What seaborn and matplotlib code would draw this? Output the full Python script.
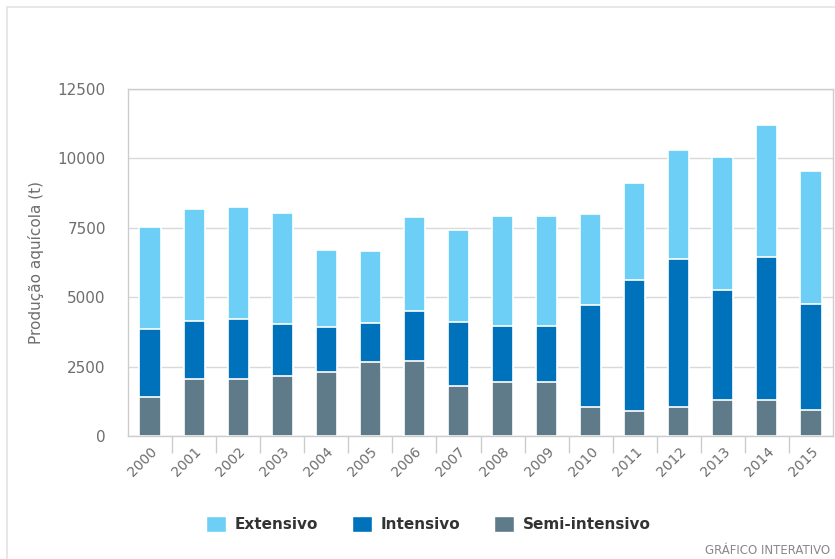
import numpy as np
import pandas as pd
import seaborn as sns
import matplotlib.pyplot as plt
from matplotlib.patches import Patch
from matplotlib.lines import Line2D
from matplotlib.ticker import FixedLocator

years = [str(y) for y in range(2000, 2016)]
semi_intensivo = [1420, 2070, 2060, 2150, 2310, 2660, 2710, 1800, 1960, 1960, 1060, 900, 1060, 1300, 1300, 940]
intensivo = [2450, 2060, 2160, 1870, 1610, 1410, 1810, 2300, 2000, 2000, 3660, 4730, 5330, 3970, 5140, 3830]
extensivo = [3650, 4060, 4020, 4010, 2790, 2600, 3360, 3320, 3970, 3970, 3260, 3500, 3900, 4770, 4770, 4780]

c_ext = '#6dcff6'
c_int = '#0072bc'
c_semi = '#5f7b89'
grey = '#6e6e6e'

df = pd.DataFrame({'ano': years, 'semi': semi_intensivo, 'int': intensivo, 'ext': extensivo})
df['top_int'] = df['semi'] + df['int']
df['total'] = df['top_int'] + df['ext']

sns.set_style('white')
plt.rcParams['font.family'] = ['DejaVu Sans']

fig = plt.figure(figsize=(8.35, 5.59), dpi=100)
ax = fig.add_axes([128 / 835, 1 - 436 / 559, 705 / 835, 347 / 559])

# stacked bars by layering cumulative totals
for col, c in [('total', c_ext), ('top_int', c_int), ('semi', c_semi)]:
    sns.barplot(data=df, x='ano', y=col, color=c, width=0.48, edgecolor='white',
                linewidth=1.2, saturation=1, ax=ax)

ax.set_xlim(-0.5, 15.5)
ax.set_ylim(0, 12500)
ax.set_yticks(np.arange(0, 12501, 2500))
ax.yaxis.grid(True, color='#d9d9d9', linewidth=1)
ax.set_axisbelow(True)
for s in ax.spines.values():
    s.set_color('#cccccc')
    s.set_linewidth(1)

ax.set_xlabel('')
ax.set_ylabel('Produção aquícola (t)', color=grey, fontsize=11, labelpad=10)
ax.tick_params(axis='y', length=0, labelsize=11, labelcolor=grey, pad=16)
ax.tick_params(axis='x', which='major', length=0, labelsize=10, labelcolor=grey, pad=6)
ax.xaxis.set_minor_locator(FixedLocator(np.arange(0.5, 15, 1)))
ax.tick_params(axis='x', which='minor', bottom=True, length=12, color='#cccccc', width=1, direction='out')
for lab in ax.get_xticklabels():
    lab.set_rotation(45)
    lab.set_ha('right')
    lab.set_rotation_mode('anchor')

handles = [Patch(facecolor=c_ext, label='Extensivo'),
           Patch(facecolor=c_int, label='Intensivo'),
           Patch(facecolor=c_semi, label='Semi-intensivo')]
leg = fig.legend(handles=handles, loc='center left', bbox_to_anchor=(192 / 835, 1 - 524 / 559), ncol=3,
                 frameon=False, handlelength=1.3, handleheight=1.3, handletextpad=0.6, columnspacing=2.2,
                 prop={'weight': 'bold', 'size': 11})
for t in leg.get_texts():
    t.set_color('#333333')

fig.text(830 / 835, 1 - 551 / 559, 'GRÁFICO INTERATIVO', ha='right', va='center', color='#888888', fontsize=8.5)

# card border
fig.add_artist(Line2D([7 / 835, 7 / 835], [0, 1 - 7 / 559], color='#e3e3e3', linewidth=1.2))
fig.add_artist(Line2D([7 / 835, 1], [1 - 7 / 559, 1 - 7 / 559], color='#e3e3e3', linewidth=1.2))

fig.savefig('out.png', dpi=100)
